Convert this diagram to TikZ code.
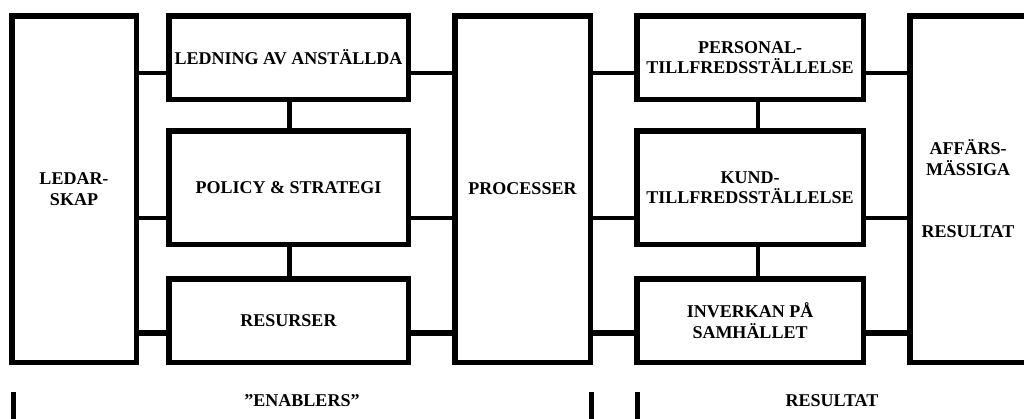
\documentclass[tikz,border=0pt]{standalone}
\usepackage{fontspec}
\setmainfont{Liberation Serif}
\usetikzlibrary{positioning}

\begin{document}
\begin{tikzpicture}[x=1pt, y=-1pt,
  every node/.style={font=\fontsize{18}{20.5}\selectfont\bfseries, draw, line width=5.5pt, inner sep=0pt, align=center, fill=white},
  tall/.style={minimum width=#1, minimum height=346.5pt},
  cell/.style={minimum width=#1, minimum height=83.5pt},
  bigcell/.style={minimum width=#1, minimum height=113.5pt},
  plain/.style={draw=none, fill=none},
  link/.style={line width=4.5pt}, heavylink/.style={line width=6pt}, bar/.style={line width=5pt}]
\useasboundingbox (0,0) rectangle (1024,418);
\clip (0,0) rectangle (1024,418);
\coordinate (rowA) at (0,73); \coordinate (rowB) at (0,218); \coordinate (rowC) at (0,333);
\coordinate (colL) at (289,0); \coordinate (colR) at (758,0);
% enablers
\node[tall=124.5pt] (lead) at (74,189) {LEDAR-\\SKAP};
\node[cell=239.5pt] (staff) at (288.5,57.5) {LEDNING AV ANSTÄLLDA};
\node[bigcell=239.5pt] (policy) at (288.5,187.5) {POLICY \& STRATEGI};
\node[cell=239.5pt] (res) at (288.5,320.5) {RESURSER};
\node[tall=135.5pt] (proc) at (522.5,189) {PROCESSER};
% results
\node[cell=226.5pt] (pers) at (750,57.5) {PERSONAL-\\TILLFREDSSTÄLLELSE};
\node[bigcell=226.5pt] (cust) at (750,187.5) {KUND-\\TILLFREDSSTÄLLELSE};
\node[cell=226.5pt] (soc) at (750,320.5) {INVERKAN PÅ\\SAMHÄLLET};
\node[tall=116.5pt] (biz) at (968,189) {AFFÄRS-\\MÄSSIGA\\[42pt]RESULTAT};
\node[plain] (enablers) at (302,401) {”ENABLERS”};
\node[plain] (results) at (832,401) {RESULTAT};
\foreach \a/\b in {lead/staff,staff/proc,proc/pers,pers/biz}
  \draw[link] (\a.east |- rowA) -- (\b.west |- rowA);
\foreach \a/\b in {lead/policy,policy/proc,proc/cust,cust/biz}
  \draw[link] (\a.east |- rowB) -- (\b.west |- rowB);
\foreach \a/\b in {lead/res,res/proc,proc/soc,soc/biz}
  \draw[heavylink] (\a.east |- rowC) -- (\b.west |- rowC);
\foreach \a/\b in {staff/policy,policy/res}
  \draw[line width=5pt] (\a.south -| colL) -- (\b.north -| colL);
\foreach \a/\b in {pers/cust,cust/soc}
  \draw[line width=4pt] (\a.south -| colR) -- (\b.north -| colR);
% brackets
\foreach \x in {13,591,637}
  \draw[bar] (\x,392) -- (\x,420);
\end{tikzpicture}
\end{document}
